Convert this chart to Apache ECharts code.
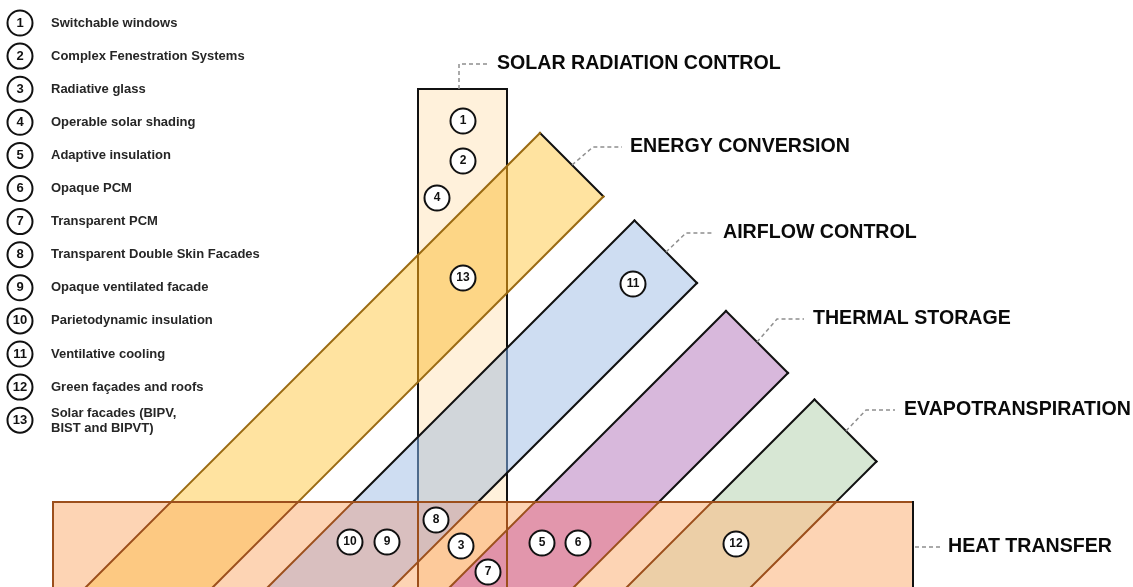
<!DOCTYPE html>
<html><head><meta charset="utf-8">
<script src="https://cdn.jsdelivr.net/npm/echarts@6/dist/echarts.min.js"></script>
<style>html,body{margin:0;padding:0;background:#fff}#c{width:1133px;height:587px}</style>
</head><body><div id="c"></div>
<script>
// ---- content ----
const techNames = ['Switchable windows','Complex Fenestration Systems','Radiative glass','Operable solar shading',
  'Adaptive insulation','Opaque PCM','Transparent PCM','Transparent Double Skin Facades','Opaque ventilated facade',
  'Parietodynamic insulation','Ventilative cooling','Green fa\u00e7ades and roofs','Solar facades (BIPV,\nBIST and BIPVT)'];
const categoryNames = ['SOLAR RADIATION CONTROL','ENERGY CONVERSION','AIRFLOW CONTROL','THERMAL STORAGE','EVAPOTRANSPIRATION','HEAT TRANSFER'];
// numbered technologies placed in the diagram and their diagram positions
const markerIds = [1,2,4,13,11,10,9,8,3,7,5,6,12];
const markerX = [463,463,437,463,633,350,387,436,461,488,542,578,736];
const markerY = [121,161,198,278,284,542,542,520,546,572,543,543,544];

// ---- diagram geometry (diagram units) ----
const BOTTOM = 620;
const barGeo = {x0:418, x1:507, top:89};
const rectGeo = {x0:53, x1:913, top:502};
// diagonal bands: upper edge x+y=U, lower edge x+y=L, end cap x-y=K
const bandU = [673, 855, 1037, 1214];
const bandL = [800, 980, 1161, 1338];
const bandK = [407, 414, 415, 415];
const catLabelX = [497,630,723,813,904,948];
const catLabelY = [64,147,233,319,410,547];
const leaderPts = [
  [[459,89],[459,64],[489,64]],
  [[572,165],[593,147],[622,147]],
  [[666,252],[686,233],[714,233]],
  [[757,342],[777,319],[804,319]],
  [[846,431],[866,410],[895,410]],
  [[915,547],[941,547]]
];
const legendX = 20, legendY0 = 23, legendStep = 33.1, legendTextX = 51;

// ---- styles ----
// layers: 0 bar, 1..4 bands, 5 heat-transfer rectangle
const fillColors = ['#FFF1DB','#FFE3A0','#CEDDF2','#D8B8DC','#D7E7D4','#FDD4B4'];
const overlapColors = {
  '0,1':'#FDD686', '0,2':'#D1D6DA', '0,3':'#D9B4C9',
  '1,5':'#FDC982', '2,5':'#D9BFBF', '3,5':'#E296AC', '4,5':'#ECCFA7', '0,5':'#FDCA9B',
  '0,2,5':'#D6BDBB', '0,3,5':'#E193A9'
};
const BLACK='#111111', GOLD='#9A6A12', SLATE='#4E6A8C', BROWN='#9C4F1C';
const lineColors = [BLACK, GOLD, SLATE, BROWN];

function bandPoly(i){
  const u=bandU[i], l=bandL[i], k=bandK[i];
  return [[(u+k)/2,(u-k)/2],[(l+k)/2,(l-k)/2],[l-BOTTOM,BOTTOM],[u-BOTTOM,BOTTOM]];
}
const layers = [
  [[barGeo.x0,barGeo.top],[barGeo.x1,barGeo.top],[barGeo.x1,BOTTOM],[barGeo.x0,BOTTOM]],
  bandPoly(0), bandPoly(1), bandPoly(2), bandPoly(3),
  [[rectGeo.x0,rectGeo.top],[rectGeo.x1,rectGeo.top],[rectGeo.x1,BOTTOM],[rectGeo.x0,BOTTOM]]
];

// convex polygon clipping (Sutherland-Hodgman)
function clip(subject, clipPoly){
  const cx=clipPoly.reduce((s,p)=>s+p[0],0)/clipPoly.length, cy=clipPoly.reduce((s,p)=>s+p[1],0)/clipPoly.length;
  let out=subject;
  for(let i=0;i<clipPoly.length && out.length;i++){
    const a=clipPoly[i], b=clipPoly[(i+1)%clipPoly.length];
    const side=(p)=>(b[0]-a[0])*(p[1]-a[1])-(b[1]-a[1])*(p[0]-a[0]);
    const ref=side([cx,cy])>0?1:-1;
    const inp=out; out=[];
    for(let j=0;j<inp.length;j++){
      const P=inp[j], Q=inp[(j+1)%inp.length];
      const sp=side(P)*ref, sq=side(Q)*ref;
      if(sp>=0) out.push(P);
      if((sp>=0)!==(sq>=0)){
        const t=sp/(sp-sq); out.push([P[0]+(Q[0]-P[0])*t, P[1]+(Q[1]-P[1])*t]);
      }
    }
  }
  return out;
}
function area(poly){let s=0;for(let i=0;i<poly.length;i++){const p=poly[i],q=poly[(i+1)%poly.length];s+=p[0]*q[1]-q[0]*p[1];}return Math.abs(s/2);}

const regions = []; // [points, color]
layers.forEach((p,i)=>regions.push([p, fillColors[i]]));
Object.keys(overlapColors).sort((a,b)=>a.split(',').length-b.split(',').length).forEach(key=>{
  const ids=key.split(',').map(Number);
  let poly=layers[ids[0]];
  for(let j=1;j<ids.length;j++) poly=clip(poly, layers[ids[j]]);
  if(poly.length>=3 && area(poly)>0.5) regions.push([poly, overlapColors[key]]);
});

function inBand(i,x,y){const s=x+y,d=x-y;return s>bandU[i]&&s<bandL[i]&&d<bandK[i];}
function inRect(x,y){return x>rectGeo.x0+0.5&&x<rectGeo.x1-0.5&&y>rectGeo.top+0.5;}

// edges: [owner, side, a, b]
const edges = [];
edges.push(['bar','side',[barGeo.x0,barGeo.top],[barGeo.x0,BOTTOM]]);
edges.push(['bar','side',[barGeo.x1,barGeo.top],[barGeo.x1,BOTTOM]]);
edges.push(['bar','top',[barGeo.x0,barGeo.top],[barGeo.x1,barGeo.top]]);
for(let i=0;i<4;i++){
  const p=bandPoly(i);
  edges.push(['band'+i,'cap',p[0],p[1]]);
  edges.push(['band'+i,'edge',p[1],p[2]]);
  edges.push(['band'+i,'edge',p[0],p[3]]);
}
edges.push(['rect','top',[rectGeo.x0,rectGeo.top],[rectGeo.x1,rectGeo.top]]);
edges.push(['rect','left',[rectGeo.x0,rectGeo.top],[rectGeo.x0,BOTTOM]]);
edges.push(['rect','right',[rectGeo.x1,rectGeo.top],[rectGeo.x1,BOTTOM]]);

function colorAt(owner, side, x, y){
  if(owner==='rect') return side==='right'?0:3;
  if(inRect(x,y)) return 3;
  if(owner==='band0') return side==='cap'?0:1;
  if(inBand(0,x,y)) return 1;
  if(owner!=='band1' && inBand(1,x,y)) return 2;
  return 0;
}
const runs = [];
edges.forEach(([owner,side,a,b])=>{
  const len=Math.hypot(b[0]-a[0],b[1]-a[1]);
  const n=Math.max(1,Math.ceil(len/0.5));
  let start=a, cur=null, prev=a;
  for(let j=1;j<=n;j++){
    const t=j/n, p=[a[0]+(b[0]-a[0])*t, a[1]+(b[1]-a[1])*t];
    const m=[(prev[0]+p[0])/2,(prev[1]+p[1])/2];
    const c=colorAt(owner,side,m[0],m[1]);
    if(cur===null){cur=c;}
    else if(c!==cur){runs.push([start[0],start[1],prev[0],prev[1],cur]); start=prev; cur=c;}
    prev=p;
  }
  runs.push([start[0],start[1],prev[0],prev[1],cur]);
});

const FONT = '"Liberation Sans", Arial, sans-serif';
const chart = echarts.init(document.getElementById('c'), null, {renderer:'canvas', width:1133, height:587});

chart.setOption({
  backgroundColor:'#ffffff',
  animation:false,
  grid:{left:0,right:0,top:0,bottom:0},
  xAxis:{type:'value',min:0,max:1133,show:false},
  yAxis:{type:'value',min:0,max:587,inverse:true,show:false},
  series:[
    { // fills
      type:'custom', coordinateSystem:'cartesian2d', z:1, silent:true,
      data: regions.map((_,i)=>[i,0]),
      renderItem:(params,api)=>{
        const r=regions[api.value(0)];
        return {type:'polygon', shape:{points:r[0].map(p=>api.coord(p))},
          style:{fill:r[1], stroke:r[1], lineWidth:0.6}};
      }
    },
    { // outlines
      type:'custom', coordinateSystem:'cartesian2d', z:2, silent:true,
      data: runs,
      renderItem:(params,api)=>{
        const p1=api.coord([api.value(0),api.value(1)]), p2=api.coord([api.value(2),api.value(3)]);
        return {type:'line', shape:{x1:p1[0],y1:p1[1],x2:p2[0],y2:p2[1]},
          style:{stroke:lineColors[api.value(4)], lineWidth:2, lineCap:'square'}};
      }
    },
    { // leader lines
      type:'custom', coordinateSystem:'cartesian2d', z:3, silent:true,
      data: leaderPts.map((_,i)=>[i,0]),
      renderItem:(params,api)=>{
        const pts=leaderPts[api.value(0)].map(p=>api.coord(p));
        return {type:'polyline', shape:{points:pts},
          style:{stroke:'#8f8f8f', lineWidth:1.5, lineDash:[4,3], fill:null}};
      }
    },
    { // category labels + legend texts
      type:'custom', coordinateSystem:'cartesian2d', z:4, silent:true,
      data: categoryNames.map((_,i)=>[catLabelX[i],catLabelY[i],0,i]).concat(
        techNames.map((_,i)=>[legendTextX, legendY0+legendStep*i + (i===12?0.5:0), 1, i])),
      renderItem:(params,api)=>{
        const p=api.coord([api.value(0),api.value(1)]);
        const isCat=api.value(2)===0, i=api.value(3);
        return {type:'text', x:p[0], y:p[1],
          style:{text:isCat?categoryNames[i]:techNames[i],
            fill:isCat?'#0a0a0a':'#262626',
            font:isCat?('bold 19.6px '+FONT):('bold 13px '+FONT),
            lineHeight:15,
            textAlign:'left', textVerticalAlign:'middle', align:'left', verticalAlign:'middle'}};
      }
    },
    { // diagram markers
      type:'scatter', z:5, silent:true, symbol:'circle', symbolSize:25,
      data: markerIds.map((id,i)=>[markerX[i],markerY[i],id]),
      itemStyle:{color:'#ffffff', borderColor:'#111', borderWidth:2, opacity:1},
      label:{show:true, position:'inside', formatter:p=>String(p.data[2]), color:'#111',
        fontSize:12, fontWeight:'bold', fontFamily:FONT}
    },
    { // legend markers
      type:'scatter', z:5, silent:true, symbol:'circle', symbolSize:25,
      data: techNames.map((_,i)=>[legendX, legendY0+legendStep*i, i+1]),
      itemStyle:{color:'#ffffff', borderColor:'#111', borderWidth:2, opacity:1},
      label:{show:true, position:'inside', formatter:p=>String(p.data[2]), color:'#111',
        fontSize:13, fontWeight:'bold', fontFamily:FONT}
    }
  ]
});
</script></body></html>
